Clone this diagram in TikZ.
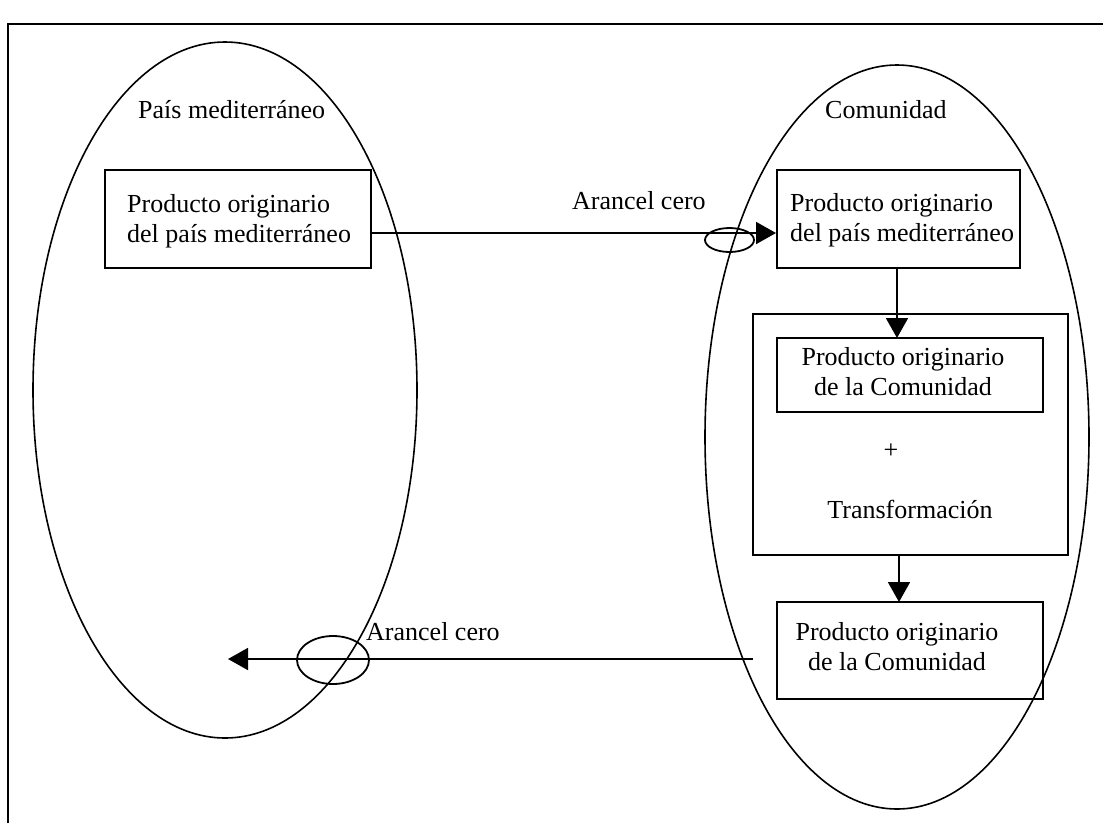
\documentclass[tikz,border=0pt]{standalone}
\usepackage{fontspec}
\setmainfont{Liberation Serif}
\usetikzlibrary{shapes.geometric,arrows.meta,calc}
\begin{document}
\begin{tikzpicture}[x=1pt,y=-1pt,
  every node/.style={font=\fontsize{26pt}{30pt}\selectfont, inner sep=0pt},
  region/.style={ellipse, draw, line width=1.6pt},
  tariff/.style={ellipse, draw, line width=1.8pt},
  box/.style={rectangle, draw, line width=2pt},
  arr/.style={line width=1.8pt, -{Triangle[length=20pt,width=22pt]}},
  txtl/.style={align=left, anchor=north west},
  txtc/.style={align=center, anchor=north}]
\useasboundingbox (0,0) rectangle (1103,823);

% open frame
\draw[line width=2pt] (8,823) -- (8,24) -- (1103,24);

% the two territories
\node[region, minimum width=384pt, minimum height=696pt] (med) at (225,390) {};
\node[region, minimum width=384pt, minimum height=744pt] (com) at (897,437) {};
\node[anchor=base west] (medlbl) at (138,118) {País mediterráneo};
\node[anchor=base west] (comlbl) at (825,118) {Comunidad};

% boxes
\node[box, minimum width=266pt, minimum height=98pt] (lbox) at (238,219) {};
\node[box, minimum width=243pt, minimum height=98pt] (tbox) at (898.5,219) {};
\node[box, minimum width=315pt, minimum height=241pt] (big) at (910,434.5) {};
\node[box, minimum width=266pt, minimum height=74pt] (ibox) at (910,375) {};
\node[box, minimum width=266pt, minimum height=97pt] (bbox) at (910,650.5) {};

% box texts
\node[txtl] (ltxt) at (127,194) {Producto originario\\del país mediterráneo};
\node[txtl] (ttxt) at (790,193.5) {Producto originario\\del país mediterráneo};
\node[txtc] (itxt) at (903,347) {Producto originario\\de la Comunidad};
\node (plus) at (891,451) {+};
\node[anchor=base] (trf) at (910,518) {Transformación};
\node[txtc] (btxt) at (897,622) {Producto originario\\de la Comunidad};

% export to the Community
\node[anchor=base west] (tar1) at (572,209) {Arancel cero};
\draw[arr] ($(lbox.east)+(0,14)$) -- ($(tbox.west)+(0,14)$);
\node[tariff, minimum width=49pt, minimum height=24pt] (ring1) at (729.5,240) {};

% processing inside the Community
\draw[arr] (897,268) -- (897,338);
\draw[arr] (899,555) -- (899,602);

% export back
\coordinate (retS) at (753,659);
\coordinate (retE) at (228,659);
\draw[arr] (retS) -- (retE);
\node[tariff, minimum width=72pt, minimum height=48pt] (ring2) at (333,660) {};
\node[anchor=base west] (tar2) at (366,640) {Arancel cero};
\end{tikzpicture}
\end{document}
